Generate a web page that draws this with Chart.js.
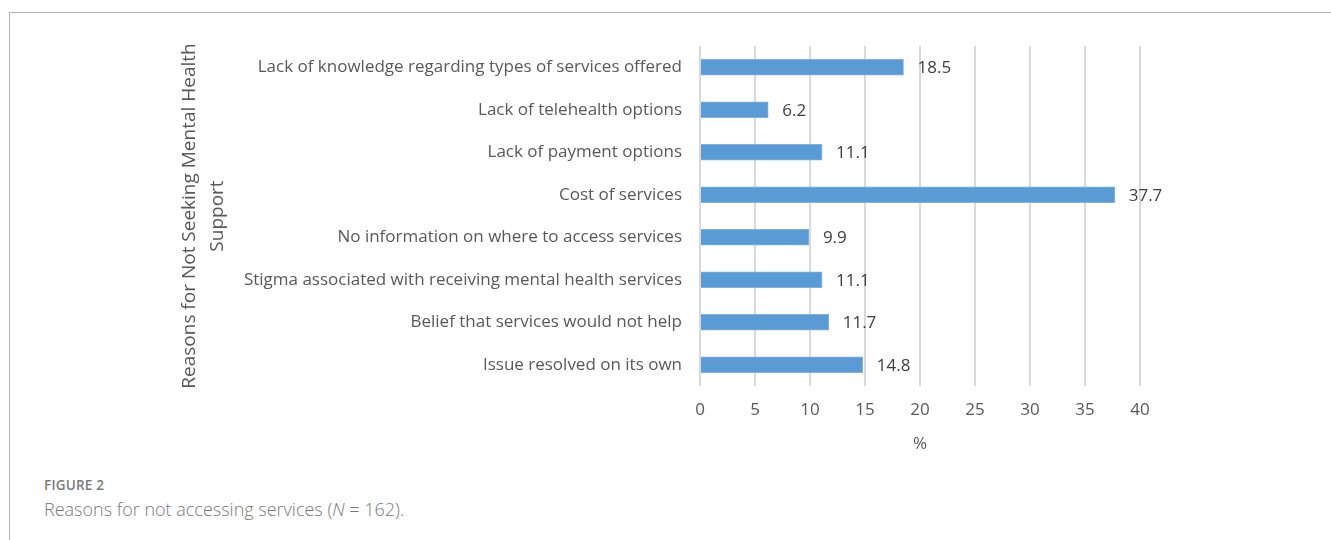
<!DOCTYPE html>
<html lang="en">
  <head>
    <meta charset="UTF-8" />
    <title>Figure 2</title>
    <script src="https://cdn.jsdelivr.net/npm/chart.js"></script>
    <style>
      body { margin: 0; background: #fff; width: 1331px; height: 540px; overflow: hidden; position: relative; }
      .moldura { position: absolute; left: 9px; top: 12px; right: 0; bottom: -2px; border-top: 1px solid #b5b5b5; border-left: 1px solid #b5b5b5; }
      .grafico { position: absolute; left: 0; top: 0; width: 1331px; height: 460px; }
      .legenda { position: absolute; left: 44px; top: 475px; font-family: "Open Sans", sans-serif; color: #7a7a7a; }
      .legenda .fig { font-size: 13.5px; line-height: 20px; font-weight: 600; letter-spacing: 0.2px; }
      .legenda .txt { font-size: 18px; line-height: 24px; font-weight: 300; margin-top: 2px; }
    </style>
  </head>
  <body>
    <div class="moldura"></div>
    <div class="grafico"><canvas id="myCanvas"></canvas></div>
    <div class="legenda">
      <div class="fig">FIGURE 2</div>
      <div class="txt">Reasons for not accessing services (<i>N</i> = 162).</div>
    </div>
  </body>
</html>
<script>
  // categorias (de cima para baixo)
  const motivos = [
    "Lack of knowledge regarding types of services offered",
    "Lack of telehealth options",
    "Lack of payment options",
    "Cost of services",
    "No information on where to access services",
    "Stigma associated with receiving mental health services",
    "Belief that services would not help",
    "Issue resolved on its own",
  ];
  const percentuais = [18.5, 6.2, 11.1, 37.7, 9.9, 11.1, 11.7, 14.8];
  const tituloY = ["Reasons for Not Seeking Mental Health", "Support"];
  const tituloX = "%";

  const fonte = "'Open Sans', sans-serif";

  // rótulos de valor no fim de cada barra
  const rotulos = {
    id: "rotulos",
    afterDatasetsDraw(chart) {
      const ctx = chart.ctx;
      const meta = chart.getDatasetMeta(0);
      ctx.save();
      ctx.font = "17px " + fonte;
      ctx.fillStyle = "#404040";
      ctx.textAlign = "left";
      ctx.textBaseline = "middle";
      meta.data.forEach((bar, i) => {
        ctx.fillText(String(percentuais[i]), bar.x + 14, bar.y + 1);
      });
      ctx.restore();
    },
  };

  const config = {
    type: "bar",
    data: {
      labels: motivos,
      datasets: [
        {
          label: "%",
          data: percentuais,
          backgroundColor: "#5B9BD5",
          borderColor: "#7fb2e0",
          borderWidth: 1,
          barThickness: 16,
        },
      ],
    },
    options: {
      indexAxis: "y",
      responsive: true,
      maintainAspectRatio: false,
      animation: false,
      layout: { padding: { left: 176, top: 46, right: 191, bottom: 0 } },
      scales: {
        x: {
          min: 0,
          max: 40,
          ticks: { stepSize: 5, color: "#595959", font: { family: fonte, size: 17 }, padding: 14 },
          grid: { color: "#d9d9d9", lineWidth: 2, drawTicks: false },
          border: { display: false },
          title: { display: true, text: tituloX, color: "#595959", font: { family: fonte, size: 17 }, padding: { top: 0, bottom: 6 } },
          afterFit(scale) {
            scale.height = 74;
          },
        },
        y: {
          ticks: { color: "#595959", font: { family: fonte, size: 17 }, padding: 18 },
          grid: { display: false, drawTicks: false },
          border: { display: false },
          title: { display: true, text: tituloY, color: "#595959", font: { family: fonte, size: 19, lineHeight: 1.45 }, padding: 0 },
          afterFit(scale) {
            scale.width = 700 - 176;
          },
        },
      },
      plugins: {
        legend: { display: false },
        tooltip: { enabled: false },
      },
    },
    plugins: [rotulos],
  };

  new Chart(document.getElementById("myCanvas"), config);
</script>
